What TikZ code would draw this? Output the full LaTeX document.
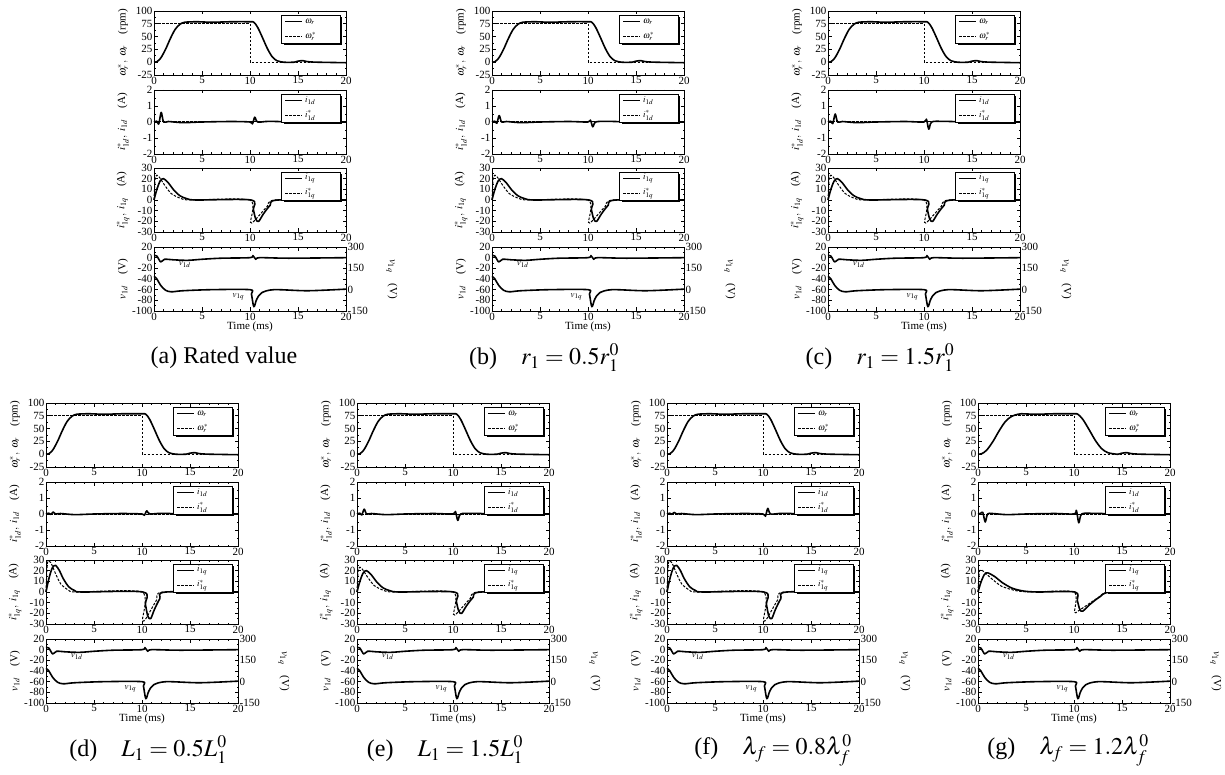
\documentclass[tikz,border=0pt]{standalone}
\usepackage{mathptmx}
\usepackage{fontspec}
\setmainfont{Liberation Serif}

\tikzset{
  frame/.style={line width=0.9pt},
  sigline/.style={line width=1.6pt,line join=round},
  refline/.style={line width=1pt,dash pattern=on 2.5pt off 1.5pt},
  ticklbl/.style={font=\fontsize{11}{12}\selectfont,inner sep=1.5pt},
  axtitle/.style={font=\fontsize{11}{12}\selectfont,inner sep=0pt},
  legtxt/.style={font=\fontsize{9}{10}\selectfont,inner sep=0pt},
  legbox/.style={draw,line width=0.8pt,fill=white},
  caplbl/.style={font=\fontsize{24}{28}\selectfont},
}

% frame, ticks and tick labels of one plot: prefix, ymin, ymax, major, minor
\newcommand\axisframe[5]{%
  \draw[frame] (0,#2) rectangle (20,#3);
  \foreach \t in {1,...,19} \draw[frame] (\t,#2) -- ++(0pt,1.5pt) (\t,#3) -- ++(0pt,-1.5pt);
  \foreach \t in {0,5,...,20} {
    \draw[frame] (\t,#2) -- ++(0pt,3.5pt) (\t,#3) -- ++(0pt,-3.5pt);
    \node[ticklbl,below] (#1x\t) at (\t,#2) {\t};
  }
  \pgfmathsetmacro\ysnd{#2+#5}
  \foreach \v in {#2,\ysnd,...,#3} \draw[frame] (0,\v) -- ++(1.5pt,0pt) (20,\v) -- ++(-1.5pt,0pt);
  \pgfmathtruncatemacro\ymaj{#2+#4}
  \foreach \v in {#2,\ymaj,...,#3} {
    \draw[frame] (0,\v) -- ++(3.5pt,0pt) (20,\v) -- ++(-3.5pt,0pt);
    \node[ticklbl,left] (#1y\v) at (0,\v) {\v};
  }
}

% legend in panel pixels: prefix, plot top, solid label, dashed label
\newcommand\legendbox[4]{%
  \fill (130,#2+6) rectangle (188,#2+34);
  \draw[legbox] (127,#2+4) rectangle (186,#2+32);
  \draw[sigline] (131,#2+10.5) -- (148,#2+10.5);
  \draw[refline] (131,#2+25.5) -- (148,#2+25.5);
  \node[legtxt,anchor=west] (#1a) at (151,#2+10.5) {#3};
  \node[legtxt,anchor=west] (#1b) at (151,#2+25.5) {#4};
}

% x, y, caption, name, iq peak, iq stretch, id spike 1, id spike 2, speed stretch
\newcommand\drawpanel[9]{%
\begin{scope}[shift={(#1,#2)}]
  \begin{scope}[shift={(0,64)},x=9.6pt,y=0.512pt,shift={(0,25)}]
    \axisframe{#4w}{-25}{100}{25}{12.5}
    \draw[refline] (0,75) -- (10,75) -- (10,0) -- (20,0);
    \draw[sigline] plot[smooth,tension=0.5] coordinates {(0,0) ({0.3*#9},1) ({0.7*#9},8) ({1.2*#9},25) ({1.7*#9},46) ({2.2*#9},64) ({2.7*#9},74) ({3.2*#9},78) (4.5,79) (6,78) (8,79) (10,79) (10.4,78) ({10.4+0.4*#9},68) ({10.4+0.9*#9},48) ({10.4+1.4*#9},27) ({10.4+1.9*#9},11) ({10.4+2.4*#9},3) ({10.4+3.1*#9},0) (14.6,0) (15,2) (15.5,3) (16,1) (17,0) (20,-1)};
  \end{scope}
  \begin{scope}[shift={(0,143)},x=9.6pt,y=16pt,shift={(0,2)}]
    \axisframe{#4d}{-2}{2}{1}{0.5}
    \draw[refline] (0,0) -- (20,0);
    \draw[sigline] plot[smooth,tension=0.5] coordinates {(0,0) (0.3,0.05) (0.5,{-0.2*#7}) (0.75,{#7}) (1,0) (1.5,0.03) (3,-0.04) (5,0) (8,0.03) (10,0) (10.25,{-0.4*#8}) (10.5,{#8}) (10.8,0) (12,0.04) (15,0) (20,0)};
  \end{scope}
  \begin{scope}[shift={(0,221)},x=9.6pt,y=1.0667pt,shift={(0,30)}]
    \axisframe{#4q}{-30}{30}{10}{5}
    \draw[refline] plot[smooth,tension=0.4] coordinates {(0,0) (0.15,{1.1*#5}) (0.5,{1.1*#5}) ({0.5+0.6*#6},{0.7*#5}) ({0.5+1.3*#6},{0.3*#5}) ({0.5+2.3*#6},{0.07*#5}) ({0.5+3.3*#6},0) (10,0) (10.05,{-1.05*#5}) (10.4,{-1.0*#5}) ({10.4+0.6*#6},{-0.7*#5}) ({10.4+1.4*#6},{-0.3*#5}) ({10.4+2.2*#6},0) (20,0)};
    \draw[sigline] plot[smooth,tension=0.5] coordinates {(0,0) (0.3,{0.5*#5}) (0.65,{0.9*#5}) (1,{#5}) ({1+0.5*#6},{0.8*#5}) ({1+1*#6},{0.5*#5}) ({1+1.7*#6},{0.2*#5}) ({1+2.5*#6},{0.05*#5}) ({1+3.5*#6},0) (10.1,0) (10.35,{-0.45*#5}) (10.6,{-0.9*#5}) (10.9,{-#5}) ({10.9+0.5*#6},{-0.65*#5}) ({10.9+1.2*#6},{-0.25*#5}) ({10.9+2*#6},0) (20,0)};
  \end{scope}
  \begin{scope}[shift={(0,300)},x=9.6pt,y=0.5333pt,shift={(0,100)}]
    \axisframe{#4v}{-100}{20}{20}{10}
    \foreach \r/\v in {300/20,150/-20,0/-60,-150/-100}
      \node[ticklbl,right] (#4r\r) at (20,\v) {\r};
    \draw[sigline] plot[smooth,tension=0.5] coordinates {(0,4) (0.3,3) (0.7,-8) (1.1,-3) (2,-4) (3.5,-5) (5,-3) (7,-1) (10,0) (10.3,4) (10.6,-3) (11,0) (14,-1) (20,0)};
    \draw[sigline] plot[smooth,tension=0.5] coordinates {(0,-35) (0.3,-40) (0.7,-52) (1.2,-61) (1.8,-64) (3,-62) (6,-60) (10,-60) (10.15,-68) (10.4,-92) (10.7,-78) (11.2,-66) (12.5,-60) (16,-62) (20,-59)};
    \node[legtxt] (#4vd) at (3.2,-13) {$v_{1d}$};
    \node[legtxt] (#4vq) at (8.8,-73) {$v_{1q}$};
  \end{scope}
  \legendbox{#4lw}{0}{$\omega_r$}{$\omega_r^*$}
  \legendbox{#4ld}{79}{$i_{1d}$}{$i_{1d}^*$}
  \legendbox{#4lq}{157}{$i_{1q}$}{$i_{1q}^*$}
  \node[axtitle,rotate=90] (#4tw) at (-31,32) {$\omega_r^*,\ \omega_r$\quad(rpm)};
  \node[axtitle,rotate=90] (#4td) at (-31,111) {$i_{1d}^*,\ i_{1d}$\quad(A)};
  \node[axtitle,rotate=90] (#4tq) at (-31,189) {$i_{1q}^*,\ i_{1q}$\quad(A)};
  \node[axtitle,rotate=90] (#4tv) at (-31,268) {$v_{1d}$\quad(V)};
  \node[axtitle,rotate=-90] (#4tr) at (238,268) {$v_{1q}$\quad(V)};
  \node[ticklbl] (#4time) at (96,316) {Time (ms)};
  \node[caplbl] (#4cap) at (\capx,347) {#3};
\end{scope}}

\begin{document}
\begin{tikzpicture}[x=1pt,y=-1pt]
\useasboundingbox (0,0) rectangle (1225,775);
\def\capx{70}
\drawpanel{154}{11}{(a) Rated value}{a}{20}{1}{0.6}{0.3}{1}
\def\capx{52}
\drawpanel{492}{11}{(b)\quad$r_1=0.5r_1^0$}{b}{20}{1}{0.4}{-0.3}{1}
\drawpanel{828}{11}{(c)\quad$r_1=1.5r_1^0$}{c}{20}{1}{0.5}{-0.45}{1}
\def\capx{102}
\drawpanel{46}{403}{(d)\quad$L_1=0.5L_1^0$}{d}{25}{0.8}{0.12}{0.2}{1}
\def\capx{88}
\drawpanel{357}{403}{(e)\quad$L_1=1.5L_1^0$}{e}{20}{1}{0.3}{-0.4}{1}
\def\capx{106}
\drawpanel{667}{403}{(f)\quad$\lambda_f=0.8\lambda_f^0$}{f}{25}{0.8}{0.1}{0.35}{1}
\def\capx{90}
\drawpanel{978}{403}{(g)\quad$\lambda_f=1.2\lambda_f^0$}{g}{18}{1.5}{-0.5}{-0.55}{1.3}
\end{tikzpicture}
\end{document}
